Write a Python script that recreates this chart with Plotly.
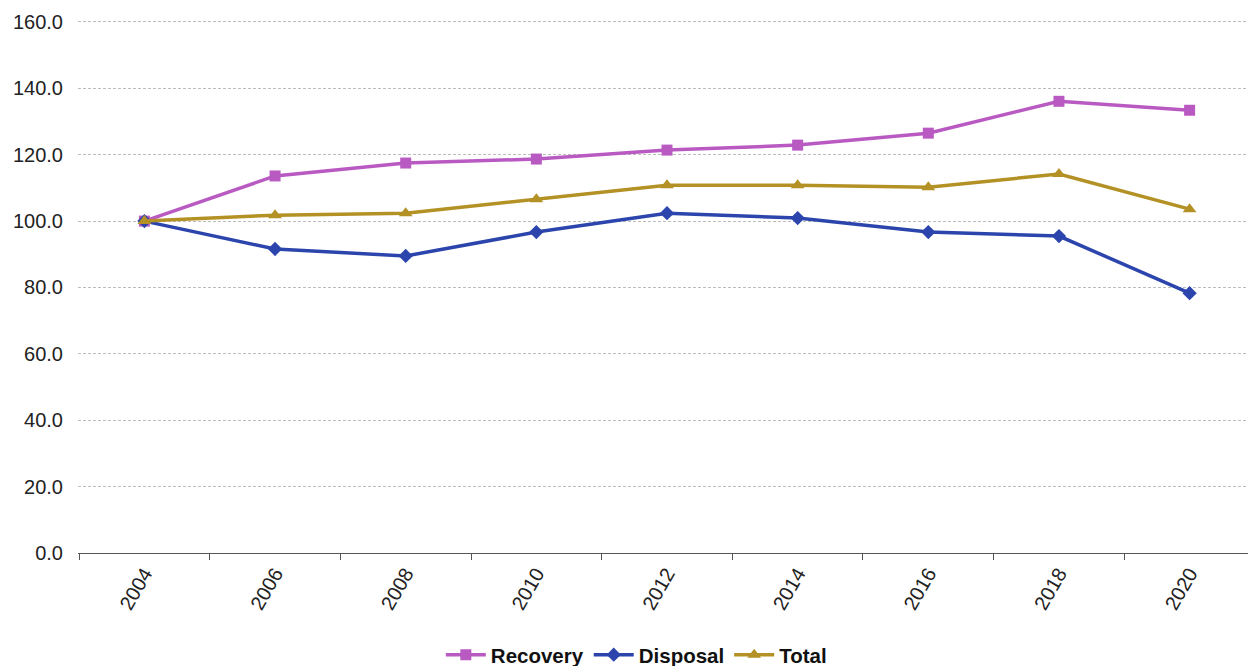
import plotly.graph_objects as go

years = ["2004", "2006", "2008", "2010", "2012", "2014", "2016", "2018", "2020"]
recovery = [100.0, 113.6, 117.5, 118.7, 121.4, 122.9, 126.5, 136.1, 133.4]
disposal = [100.0, 91.6, 89.5, 96.7, 102.4, 100.9, 96.7, 95.5, 78.3]
total = [100.0, 101.8, 102.4, 106.6, 110.8, 110.8, 110.2, 114.2, 103.6]

fig = go.Figure()
fig.add_trace(go.Scatter(x=years, y=recovery, name="Recovery", mode="lines+markers",
                         line=dict(color="#b95ac3", width=3.5),
                         marker=dict(symbol="square", size=11, color="#b95ac3")))
fig.add_trace(go.Scatter(x=years, y=disposal, name="Disposal", mode="lines+markers",
                         line=dict(color="#2c45ad", width=3.5),
                         marker=dict(symbol="diamond", size=11, color="#2c45ad")))
fig.add_trace(go.Scatter(x=years, y=total, name="Total", mode="lines+markers",
                         line=dict(color="#b39124", width=3.5),
                         marker=dict(symbol="triangle-up", size=12, color="#b39124")))

fig.update_layout(
    width=1256, height=666,
    margin=dict(l=70, r=8, t=9, b=121, autoexpand=False),
    plot_bgcolor="white", paper_bgcolor="white",
    font=dict(family="Liberation Sans, Arial, sans-serif", size=20, color="#222"),
    legend=dict(orientation="h", x=0.308, xanchor="left", y=-0.19, yanchor="middle",
                font=dict(size=20.5, color="#111", weight="bold"), itemwidth=40,
                tracegroupgap=0),
    showlegend=True,
)
fig.update_xaxes(type="category", tickangle=-60, showline=True, linecolor="#555", linewidth=1,
                 ticks="outside", tickson="boundaries", ticklen=6, tickcolor="#555",
                 showgrid=False, tickfont=dict(size=20), automargin=False)
fig.update_yaxes(range=[0, 161.5], tickvals=[0, 20, 40, 60, 80, 100, 120, 140, 160],
                 tickformat=".1f", showgrid=True,
                 gridcolor="#bdbdbd", griddash="3px,2px", gridwidth=1, zeroline=False,
                 showline=False, ticks="", ticklabelstandoff=14, tickfont=dict(size=20),
                 automargin=False)

fig.write_html("out.html")
